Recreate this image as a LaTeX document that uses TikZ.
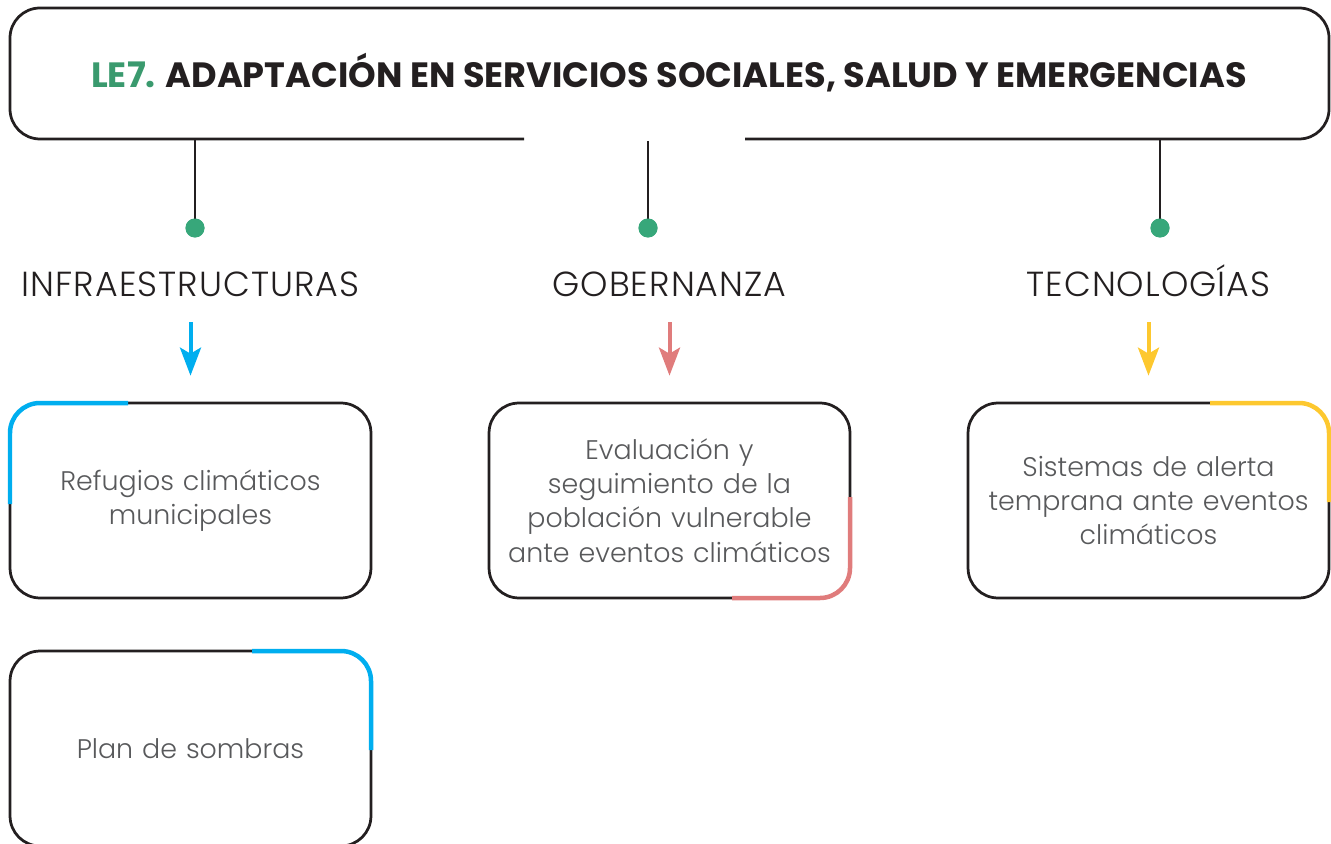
\documentclass[tikz,border=0pt]{standalone}
\usepackage{fontspec}
\setmainfont{Poppins}
\newfontfamily\lightfont{Poppins}[UprightFont=* Light]
\usepackage{xcolor}
\usetikzlibrary{arrows.meta}

\definecolor{lgreen}{HTML}{3A9A6E}
\definecolor{dotgreen}{HTML}{37A77A}
\definecolor{cblue}{HTML}{00AEEF}
\definecolor{cpink}{HTML}{E07C7C}
\definecolor{cyellow}{HTML}{FDC82F}
\definecolor{cline}{HTML}{231F20}
\definecolor{ctext}{HTML}{58595B}

\tikzset{
    frame/.style={draw=cline, line width=0.055cm, rounded corners=0.6cm},
    itembox/.style={frame, rectangle, minimum width=7.22cm, minimum height=3.9cm,
        text width=6.6cm, align=center, font=\lightfont\fontsize{15.3}{19.5}\selectfont, text=ctext},
    catlabel/.style={inner sep=0pt, text height=0.44cm, text depth=0cm,
        font=\lightfont\fontsize{19.8}{22}\selectfont\addfontfeatures{LetterSpace=3}, text=cline},
    gdot/.style={circle, fill=dotgreen, inner sep=0pt, minimum size=0.38cm},
    stem/.style={draw=cline, line width=0.055cm},
    catarrow/.style={line width=0.08cm, -{Stealth[length=0.56cm, width=0.42cm, inset=0.12cm]},
        shorten <=0.5cm, shorten >=0.52cm},
    accent/.style={line width=0.09cm, rounded corners=0.6cm, line cap=butt}
}

\begin{document}
\begin{tikzpicture}[x=0.02cm, y=-0.02cm]
    \useasboundingbox (0,0) rectangle (1331,844);

    % Header
    \draw[frame] (524,139) -- (10,139) -- (10,8) -- (1329,8) -- (1329,139) -- (745,139);
    \node[font=\bfseries\fontsize{20}{22}\selectfont, text=cline] (title) at (669,73)
        {\textcolor{lgreen}{LE7.} ADAPTACIÓN EN SERVICIOS SOCIALES, SALUD Y EMERGENCIAS};

    % Stems and dots
    \coordinate (f1) at (195,139);
    \coordinate (f2) at (648,141);
    \coordinate (f3) at (1160,139);
    \node[gdot] (d1) at (195,228) {};
    \node[gdot] (d2) at (648,228) {};
    \node[gdot] (d3) at (1160,228) {};
    \draw[stem] (f1) -- (d1.center);
    \draw[stem] (f2) -- (d2.center);
    \draw[stem] (f3) -- (d3.center);
    \node[gdot] at (d1) {};
    \node[gdot] at (d2) {};
    \node[gdot] at (d3) {};

    % Categories
    \node[catlabel] (cat1) at (190.5,286) {INFRAESTRUCTURAS};
    \node[catlabel] (cat2) at (669.5,286) {GOBERNANZA};
    \node[catlabel] (cat3) at (1148.5,286) {TECNOLOGÍAS};

    % Boxes
    \node[itembox] (box1) at (190.5,500.5) {Refugios climáticos\\municipales};
    \node[itembox] (box2) at (669.5,500.5) {Evaluación y\\seguimiento de la\\población vulnerable\\ante eventos climáticos};
    \node[itembox] (box3) at (1148.5,500.5) {Sistemas de alerta\\temprana ante eventos\\climáticos};
    \node[itembox] (box4) at (190.5,748.5) {Plan de sombras};

    % Arrows
    \draw[catarrow, cblue] (cat1) -- (box1);
    \draw[catarrow, cpink] (cat2) -- (box2);
    \draw[catarrow, cyellow] (cat3) -- (box3);

    % Accents
    \draw[accent, cblue] (10,504) -- (10,403) -- (128,403);
    \draw[accent, cpink] (850,497) -- (850,598) -- (732,598);
    \draw[accent, cyellow] (1210,403) -- (1329,403) -- (1329,502);
    \draw[accent, cblue] (252,651) -- (371,651) -- (371,750);
\end{tikzpicture}
\end{document}
